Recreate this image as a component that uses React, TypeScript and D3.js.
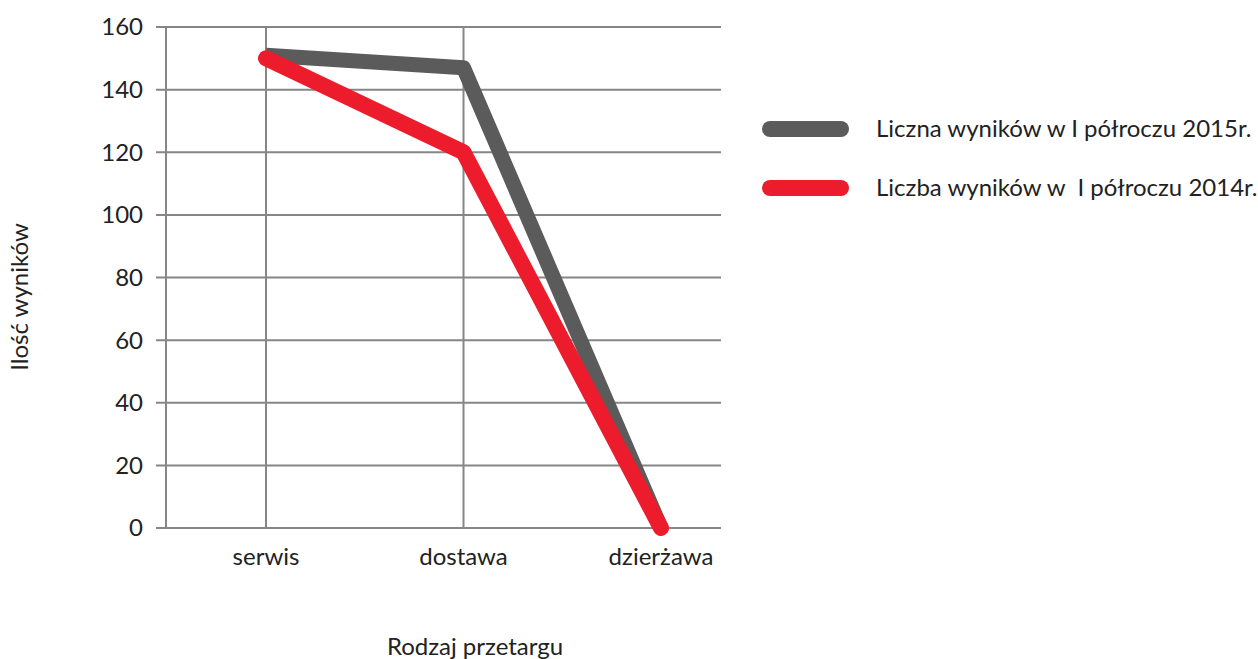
import { useMemo } from "react";
import * as d3 from "d3";

const categories = ["serwis", "dostawa", "dzierżawa"];
const series2015 = [151, 147, 0];
const series2014 = [150, 120, 0];
const yTicks = [0, 20, 40, 60, 80, 100, 120, 140, 160];
const legendLabels = [
  "Liczna wyników w I półroczu 2015r.",
  "Liczba wyników w  I półroczu 2014r.",
];
const colors = ["#5b5b5b", "#ec1c2d"];

const W = 1258;
const H = 659;
const FONT = "Lato, 'Open Sans', sans-serif";

export default function App() {
  const x = useMemo(
    () => d3.scalePoint<string>().domain(categories).range([266, 661]),
    [],
  );
  const y = useMemo(
    () => d3.scaleLinear().domain([0, 160]).range([528, 27]),
    [],
  );

  const line = d3
    .line<number>()
    .x((_, i) => x(categories[i]) ?? 0)
    .y((d) => y(d));

  const plotLeft = 166;
  const plotRight = 721;

  return (
    <svg
      width={W}
      height={H}
      style={{ position: "absolute", left: 0, top: 0, background: "#fff" }}
      fontFamily={FONT}
    >
      {/* horizontal grid */}
      {yTicks.map((t) => (
        <g key={t}>
          <line
            x1={156}
            x2={plotRight}
            y1={y(t)}
            y2={y(t)}
            stroke="#868686"
            strokeWidth={2}
          />
          <text
            x={143}
            y={y(t)}
            dy="0.35em"
            textAnchor="end"
            fontSize={24}
            fill="#222"
          >
            {t}
          </text>
        </g>
      ))}

      {/* vertical grid: axis + first two categories */}
      <line x1={plotLeft} x2={plotLeft} y1={y(160)} y2={y(0)} stroke="#868686" strokeWidth={2} />
      {categories.slice(0, 2).map((c) => (
        <line
          key={c}
          x1={x(c)}
          x2={x(c)}
          y1={y(160)}
          y2={y(0)}
          stroke="#868686"
          strokeWidth={2}
        />
      ))}

      {/* category labels */}
      {categories.map((c) => (
        <text
          key={c}
          x={x(c)}
          y={565}
          textAnchor="middle"
          fontSize={24}
          fill="#222"
        >
          {c}
        </text>
      ))}

      {/* series */}
      <path
        d={line(series2015) ?? ""}
        fill="none"
        stroke={colors[0]}
        strokeWidth={15}
        strokeLinejoin="round"
      />
      <path
        d={line(series2014) ?? ""}
        fill="none"
        stroke={colors[1]}
        strokeWidth={16}
        strokeLinecap="round"
        strokeLinejoin="round"
      />

      {/* axis titles */}
      <text x={475} y={655} textAnchor="middle" fontSize={24} fill="#222">
        Rodzaj przetargu
      </text>
      <text
        transform="translate(28,297) rotate(-90)"
        textAnchor="middle"
        fontSize={24}
        fill="#222"
      >
        Ilość wyników
      </text>

      {/* legend */}
      {legendLabels.map((label, i) => (
        <g key={label} transform={`translate(0,${129 + i * 59})`}>
          <line
            x1={770}
            x2={841}
            y1={0}
            y2={0}
            stroke={colors[i]}
            strokeWidth={16}
            strokeLinecap="round"
          />
          <text
            x={876}
            y={0}
            dy="0.35em"
            fontSize={24}
            fill="#222"
            style={{ whiteSpace: "pre" }}
          >
            {label}
          </text>
        </g>
      ))}
    </svg>
  );
}
